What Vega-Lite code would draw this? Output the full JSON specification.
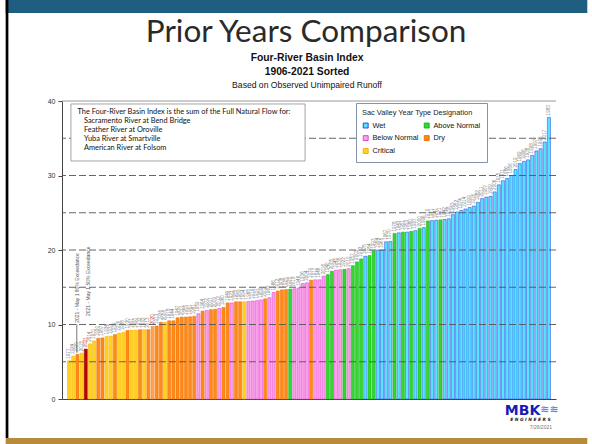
{
  "$schema": "https://vega.github.io/schema/vega-lite/v6.json",
  "width": 494,
  "height": 298,
  "autosize": {"type": "none"},
  "padding": {"left": 62, "top": 101, "right": 36, "bottom": 45},
  "background": "white",
  "config": {"view": {"stroke": null}, "font": "Liberation Sans"},
  "datasets": {
    "years": [
      {"rank":1,"year":1977,"value":5.13,"type":"Critical"},
      {"rank":2,"year":1924,"value":5.75,"type":"Critical"},
      {"rank":3,"year":1929,"value":6.0,"type":"Dry"},
      {"rank":4,"year":2015,"value":6.15,"type":"Critical"},
      {"rank":5,"year":2021,"value":6.7,"type":"Critical"},
      {"rank":6,"year":2014,"value":7.4,"type":"Critical"},
      {"rank":7,"year":1931,"value":7.8,"type":"Critical"},
      {"rank":8,"year":1920,"value":8.15,"type":"Dry"},
      {"rank":9,"year":1987,"value":8.2,"type":"Dry"},
      {"rank":10,"year":1934,"value":8.4,"type":"Critical"},
      {"rank":11,"year":1933,"value":8.45,"type":"Critical"},
      {"rank":12,"year":1939,"value":8.65,"type":"Dry"},
      {"rank":13,"year":1976,"value":8.85,"type":"Critical"},
      {"rank":14,"year":1988,"value":8.95,"type":"Critical"},
      {"rank":15,"year":1930,"value":9.2,"type":"Dry"},
      {"rank":16,"year":1991,"value":9.25,"type":"Critical"},
      {"rank":17,"year":1990,"value":9.25,"type":"Critical"},
      {"rank":18,"year":1932,"value":9.3,"type":"Dry"},
      {"rank":19,"year":1992,"value":9.3,"type":"Critical"},
      {"rank":20,"year":2013,"value":9.3,"type":"Dry"},
      {"rank":21,"year":2020,"value":9.75,"type":"Dry"},
      {"rank":22,"year":1913,"value":9.8,"type":"Dry"},
      {"rank":23,"year":1926,"value":10.3,"type":"Dry"},
      {"rank":24,"year":2008,"value":10.3,"type":"Critical"},
      {"rank":25,"year":1918,"value":10.5,"type":"Dry"},
      {"rank":26,"year":1944,"value":10.5,"type":"Dry"},
      {"rank":27,"year":1947,"value":10.9,"type":"Dry"},
      {"rank":28,"year":2001,"value":11.0,"type":"Dry"},
      {"rank":29,"year":1955,"value":11.0,"type":"Dry"},
      {"rank":30,"year":1961,"value":11.05,"type":"Dry"},
      {"rank":31,"year":1981,"value":11.1,"type":"Dry"},
      {"rank":32,"year":1959,"value":11.45,"type":"Below Normal"},
      {"rank":33,"year":1964,"value":11.8,"type":"Dry"},
      {"rank":34,"year":1972,"value":11.9,"type":"Below Normal"},
      {"rank":35,"year":2007,"value":12.0,"type":"Dry"},
      {"rank":36,"year":2009,"value":12.05,"type":"Dry"},
      {"rank":37,"year":2012,"value":12.15,"type":"Below Normal"},
      {"rank":38,"year":1960,"value":12.3,"type":"Dry"},
      {"rank":39,"year":1949,"value":12.9,"type":"Dry"},
      {"rank":40,"year":1923,"value":12.9,"type":"Below Normal"},
      {"rank":41,"year":1985,"value":13.05,"type":"Dry"},
      {"rank":42,"year":1989,"value":13.05,"type":"Dry"},
      {"rank":43,"year":1994,"value":13.05,"type":"Critical"},
      {"rank":44,"year":1968,"value":13.1,"type":"Below Normal"},
      {"rank":45,"year":1919,"value":13.15,"type":"Below Normal"},
      {"rank":46,"year":1937,"value":13.2,"type":"Below Normal"},
      {"rank":47,"year":1950,"value":13.3,"type":"Below Normal"},
      {"rank":48,"year":2002,"value":13.45,"type":"Dry"},
      {"rank":49,"year":1962,"value":13.6,"type":"Below Normal"},
      {"rank":50,"year":1966,"value":14.3,"type":"Below Normal"},
      {"rank":51,"year":1912,"value":14.5,"type":"Dry"},
      {"rank":52,"year":1908,"value":14.65,"type":"Dry"},
      {"rank":53,"year":1925,"value":14.7,"type":"Dry"},
      {"rank":54,"year":1928,"value":14.75,"type":"Above Normal"},
      {"rank":55,"year":2018,"value":14.8,"type":"Below Normal"},
      {"rank":56,"year":1946,"value":14.9,"type":"Below Normal"},
      {"rank":57,"year":1936,"value":15.5,"type":"Below Normal"},
      {"rank":58,"year":2004,"value":15.6,"type":"Below Normal"},
      {"rank":59,"year":1979,"value":15.95,"type":"Dry"},
      {"rank":60,"year":1917,"value":16.0,"type":"Below Normal"},
      {"rank":61,"year":1948,"value":16.0,"type":"Below Normal"},
      {"rank":62,"year":2016,"value":16.5,"type":"Below Normal"},
      {"rank":63,"year":1940,"value":16.7,"type":"Above Normal"},
      {"rank":64,"year":2005,"value":17.15,"type":"Above Normal"},
      {"rank":65,"year":1945,"value":17.3,"type":"Below Normal"},
      {"rank":66,"year":1935,"value":17.35,"type":"Below Normal"},
      {"rank":67,"year":1922,"value":17.4,"type":"Above Normal"},
      {"rank":68,"year":2010,"value":17.5,"type":"Below Normal"},
      {"rank":69,"year":1957,"value":17.9,"type":"Above Normal"},
      {"rank":70,"year":2003,"value":18.4,"type":"Above Normal"},
      {"rank":71,"year":1973,"value":18.8,"type":"Above Normal"},
      {"rank":72,"year":1975,"value":19.15,"type":"Wet"},
      {"rank":73,"year":1954,"value":19.25,"type":"Above Normal"},
      {"rank":74,"year":1993,"value":19.9,"type":"Above Normal"},
      {"rank":75,"year":1984,"value":20.0,"type":"Wet"},
      {"rank":76,"year":1965,"value":20.0,"type":"Wet"},
      {"rank":77,"year":1967,"value":21.1,"type":"Wet"},
      {"rank":78,"year":1970,"value":21.15,"type":"Wet"},
      {"rank":79,"year":1978,"value":22.2,"type":"Above Normal"},
      {"rank":80,"year":1943,"value":22.3,"type":"Wet"},
      {"rank":81,"year":1951,"value":22.4,"type":"Above Normal"},
      {"rank":82,"year":1953,"value":22.4,"type":"Wet"},
      {"rank":83,"year":1980,"value":22.5,"type":"Above Normal"},
      {"rank":84,"year":1927,"value":22.6,"type":"Wet"},
      {"rank":85,"year":2000,"value":22.9,"type":"Above Normal"},
      {"rank":86,"year":1996,"value":23.0,"type":"Wet"},
      {"rank":87,"year":1910,"value":23.9,"type":"Above Normal"},
      {"rank":88,"year":1971,"value":23.95,"type":"Wet"},
      {"rank":89,"year":1941,"value":24.0,"type":"Wet"},
      {"rank":90,"year":1921,"value":24.05,"type":"Above Normal"},
      {"rank":91,"year":1942,"value":24.1,"type":"Wet"},
      {"rank":92,"year":1958,"value":24.2,"type":"Wet"},
      {"rank":93,"year":1963,"value":24.75,"type":"Wet"},
      {"rank":94,"year":1952,"value":25.1,"type":"Wet"},
      {"rank":95,"year":1974,"value":25.3,"type":"Wet"},
      {"rank":96,"year":1914,"value":25.5,"type":"Wet"},
      {"rank":97,"year":1999,"value":25.7,"type":"Wet"},
      {"rank":98,"year":1916,"value":25.9,"type":"Wet"},
      {"rank":99,"year":1982,"value":26.4,"type":"Wet"},
      {"rank":100,"year":2011,"value":26.9,"type":"Wet"},
      {"rank":101,"year":1907,"value":27.1,"type":"Wet"},
      {"rank":102,"year":1909,"value":27.2,"type":"Wet"},
      {"rank":103,"year":2006,"value":27.8,"type":"Wet"},
      {"rank":104,"year":1915,"value":28.75,"type":"Wet"},
      {"rank":105,"year":1911,"value":29.3,"type":"Wet"},
      {"rank":106,"year":1986,"value":29.6,"type":"Wet"},
      {"rank":107,"year":1956,"value":30.0,"type":"Wet"},
      {"rank":108,"year":2019,"value":30.8,"type":"Wet"},
      {"rank":109,"year":1969,"value":31.6,"type":"Wet"},
      {"rank":110,"year":1906,"value":31.9,"type":"Wet"},
      {"rank":111,"year":1938,"value":32.1,"type":"Wet"},
      {"rank":112,"year":1998,"value":32.7,"type":"Wet"},
      {"rank":113,"year":1997,"value":33.3,"type":"Wet"},
      {"rank":114,"year":1995,"value":33.6,"type":"Wet"},
      {"rank":115,"year":2017,"value":34.5,"type":"Wet"},
      {"rank":116,"year":1983,"value":37.8,"type":"Wet"}
    ],
    "grid": [{"g": 5}, {"g": 10}, {"g": 15}, {"g": 20}, {"g": 25}, {"g": 30}, {"g": 35}],
    "one": [{}]
  },
  "layer": [
    {
      "data": {"name": "one"},
      "mark": {"type": "rect", "color": "#1E5E80"},
      "encoding": {
        "x": {"datum": -14.2, "type": "quantitative"},
        "x2": {"datum": 125.2},
        "y": {"datum": 53.7, "type": "quantitative"},
        "y2": {"datum": 51.8}
      }
    },
    {
      "data": {"name": "one"},
      "mark": {"type": "rect", "color": "#B88A3C"},
      "encoding": {
        "x": {"datum": -14.2, "type": "quantitative"},
        "x2": {"datum": 125.2},
        "y": {"datum": -5.25, "type": "quantitative"},
        "y2": {"datum": -6.2}
      }
    },
    {
      "data": {"name": "one"},
      "mark": {"type": "rect", "color": "#000000"},
      "encoding": {
        "x": {"datum": -14.2, "type": "quantitative"},
        "x2": {"datum": -13.55},
        "y": {"datum": 53.7, "type": "quantitative"},
        "y2": {"datum": -5.25}
      }
    },
    {
      "data": {"name": "one"},
      "mark": {"type": "text", "text": "Prior Years Comparison", "align": "center", "baseline": "alphabetic", "font": "Lato", "fontSize": 31.5, "color": "#2a2a2a"},
      "encoding": {
        "x": {"datum": 57.8, "type": "quantitative"},
        "y": {"datum": 47.92, "type": "quantitative"}
      }
    },
    {
      "data": {"name": "one"},
      "mark": {"type": "text", "text": "Four-River Basin Index", "align": "center", "baseline": "middle", "font": "Liberation Sans", "fontWeight": "bold", "fontSize": 10.3, "color": "#111111"},
      "encoding": {
        "x": {"datum": 58.03, "type": "quantitative"},
        "y": {"datum": 45.77, "type": "quantitative"}
      }
    },
    {
      "data": {"name": "one"},
      "mark": {"type": "text", "text": "1906-2021 Sorted", "align": "center", "baseline": "middle", "font": "Liberation Sans", "fontWeight": "bold", "fontSize": 10.3, "color": "#111111"},
      "encoding": {
        "x": {"datum": 58.03, "type": "quantitative"},
        "y": {"datum": 43.89, "type": "quantitative"}
      }
    },
    {
      "data": {"name": "one"},
      "mark": {"type": "text", "text": "Based on Observed Unimpaired Runoff", "align": "center", "baseline": "middle", "font": "Liberation Sans", "fontSize": 8.6, "color": "#111111"},
      "encoding": {
        "x": {"datum": 58.03, "type": "quantitative"},
        "y": {"datum": 42.15, "type": "quantitative"}
      }
    },
    {
      "data": {"name": "one"},
      "mark": {"type": "rule", "color": "#9a9a9a", "strokeWidth": 1},
      "encoding": {"y": {"datum": 40, "type": "quantitative"}}
    },
    {
      "data": {"name": "years"},
      "mark": {"type": "bar", "width": 3.1, "strokeWidth": 0.55},
      "encoding": {
        "x": {
          "field": "rank",
          "type": "quantitative",
          "scale": {"domain": [0.5, 116.5], "nice": false, "zero": false},
          "axis": {"orient": "bottom", "domain": true, "domainColor": "#444444", "domainWidth": 1, "ticks": false, "labels": false, "grid": false, "title": null}
        },
        "y": {
          "field": "value",
          "type": "quantitative",
          "scale": {"domain": [0, 40], "nice": false, "zero": true},
          "axis": {"values": [0, 5, 10, 15, 20, 25, 30, 35, 40], "grid": false, "title": null, "domainColor": "#444444", "tickColor": "#444444", "tickSize": 4, "labelPadding": 3, "labelFontSize": 7, "labelColor": "#333333", "labelFont": "Liberation Sans"}
        },
        "color": {
          "field": "type",
          "type": "nominal",
          "scale": {
            "domain": ["Wet", "Above Normal", "Below Normal", "Dry", "Critical"],
            "range": ["#55E6FF", "#33D633", "#F7A3E3", "#FF8A1C", "#FFD31F"]
          },
          "condition": [
            {"test": "datum.year === 2021", "value": "#C00000"},
            {"test": "datum.year === 2020", "value": "#FFA54F"}
          ],
          "legend": {
            "orient": "none",
            "legendX": 294,
            "legendY": 2,
            "columns": 2,
            "direction": "horizontal",
            "title": "Sac Valley Year Type Designation",
            "titleFont": "Liberation Sans",
            "titleFontSize": 7.4,
            "titleFontWeight": "normal",
            "titleColor": "#222222",
            "titlePadding": 5,
            "labelFont": "Liberation Sans",
            "labelFontSize": 7.4,
            "labelColor": "#111111",
            "labelOffset": 3,
            "symbolType": "square",
            "symbolSize": 24,
            "symbolStrokeWidth": 1,
            "rowPadding": 3,
            "columnPadding": 3,
            "padding": 6,
            "strokeColor": "#8593a8",
            "fillColor": "white"
          }
        },
        "stroke": {
          "field": "type",
          "type": "nominal",
          "scale": {
            "domain": ["Wet", "Above Normal", "Below Normal", "Dry", "Critical"],
            "range": ["#3047E8", "#14B814", "#EA3CDC", "#EE7400", "#F2B000"]
          },
          "condition": [
            {"test": "datum.year === 2021", "value": "#900000"},
            {"test": "datum.year === 2020", "value": "#F08A30"}
          ]
        }
      }
    },
    {
      "data": {"name": "grid"},
      "mark": {"type": "rule", "color": "#555555", "strokeWidth": 0.9, "strokeDash": [7, 3]},
      "encoding": {"y": {"field": "g", "type": "quantitative"}}
    },
    {
      "data": {"name": "years"},
      "mark": {"type": "text", "angle": 270, "align": "left", "baseline": "middle", "dx": 2, "fontSize": 4.6, "font": "Liberation Sans"},
      "encoding": {
        "x": {"field": "rank", "type": "quantitative"},
        "y": {"field": "value", "type": "quantitative"},
        "text": {"field": "year", "type": "nominal"},
        "color": {
          "condition": {"test": "datum.year === 2021 || datum.year === 2020", "value": "#D03A3A"},
          "value": "#808080"
        }
      }
    },
    {
      "data": {"name": "one"},
      "mark": {"type": "rect", "fill": "white", "stroke": "#9a9a9a", "strokeWidth": 0.9},
      "encoding": {
        "x": {"datum": 1.44, "type": "quantitative"},
        "x2": {"datum": 57.56},
        "y": {"datum": 39.6, "type": "quantitative"},
        "y2": {"datum": 31.95}
      }
    },
    {
      "data": {"name": "one"},
      "mark": {"type": "text", "text": "The Four-River Basin Index is the sum of the Full Natural Flow for:", "align": "left", "baseline": "middle", "font": "Lato", "fontSize": 7.4, "color": "#111111"},
      "encoding": {
        "x": {"datum": 3.01, "type": "quantitative"},
        "y": {"datum": 38.56, "type": "quantitative"}
      }
    },
    {
      "data": {"name": "one"},
      "mark": {"type": "text", "text": ["Sacramento River at Bend Bridge", "Feather River at Oroville", "Yuba River at Smartville", "American River at Folsom"], "lineHeight": 9.1, "align": "left", "baseline": "middle", "font": "Lato", "fontSize": 7.4, "color": "#111111"},
      "encoding": {
        "x": {"datum": 4.56, "type": "quantitative"},
        "y": {"datum": 37.32, "type": "quantitative"}
      }
    },
    {
      "data": {"name": "one"},
      "mark": {"type": "rule", "color": "#555555", "strokeWidth": 0.8},
      "encoding": {
        "x": {"datum": 2.85, "type": "quantitative"},
        "y": {"datum": 6.2, "type": "quantitative"},
        "y2": {"datum": 10.05}
      }
    },
    {
      "data": {"name": "one"},
      "mark": {"type": "text", "text": "2021 - May 1 90% Exceedance", "angle": 270, "align": "left", "baseline": "middle", "dx": 1, "font": "Liberation Sans", "fontSize": 5, "color": "#555555"},
      "encoding": {
        "x": {"datum": 2.85, "type": "quantitative"},
        "y": {"datum": 10.1, "type": "quantitative"}
      }
    },
    {
      "data": {"name": "one"},
      "mark": {"type": "text", "text": "2021 - May 1 50% Exceedance", "angle": 270, "align": "left", "baseline": "middle", "dx": 1, "font": "Liberation Sans", "fontSize": 5, "color": "#555555"},
      "encoding": {
        "x": {"datum": 5.43, "type": "quantitative"},
        "y": {"datum": 11.0, "type": "quantitative"}
      }
    },
    {
      "data": {"name": "one"},
      "mark": {"type": "text", "text": "MBK", "align": "right", "baseline": "middle", "font": "DejaVu Sans", "fontWeight": "bold", "fontSize": 14, "color": "#1A1AB4"},
      "encoding": {
        "x": {"datum": 113.92, "type": "quantitative"},
        "y": {"datum": -1.61, "type": "quantitative"}
      }
    },
    {
      "data": {"name": "one"},
      "mark": {"type": "text", "text": "≋≋", "align": "left", "baseline": "middle", "font": "DejaVu Sans", "fontSize": 11, "color": "#4F62E0"},
      "encoding": {
        "x": {"datum": 113.95, "type": "quantitative"},
        "y": {"datum": -1.48, "type": "quantitative"}
      }
    },
    {
      "data": {"name": "one"},
      "mark": {"type": "text", "text": "E N G I N E E R S", "align": "center", "baseline": "middle", "font": "DejaVu Sans", "fontWeight": "bold", "fontStyle": "italic", "fontSize": 4.4, "color": "#222222"},
      "encoding": {
        "x": {"datum": 111.57, "type": "quantitative"},
        "y": {"datum": -2.82, "type": "quantitative"}
      }
    },
    {
      "data": {"name": "one"},
      "mark": {"type": "text", "text": "7/26/2021", "align": "right", "baseline": "middle", "font": "Liberation Sans", "fontSize": 5, "color": "#777777"},
      "encoding": {
        "x": {"datum": 116.74, "type": "quantitative"},
        "y": {"datum": -3.76, "type": "quantitative"}
      }
    }
  ]
}
